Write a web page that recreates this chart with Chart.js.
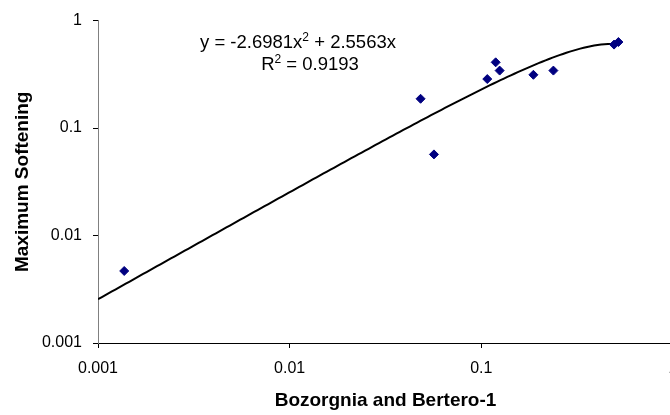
<!DOCTYPE html>
<html><head><meta charset="utf-8">
<script src="https://cdn.jsdelivr.net/npm/chart.js@4.4.0/dist/chart.umd.min.js"></script>
<style>html,body{margin:0;padding:0;overflow:hidden;background:#fff;width:670px;height:415px}</style>
</head><body>
<canvas id="c" width="700" height="415" style="display:block;width:700px;height:415px"></canvas>
<script>
// Data
const xValues = [0.00137, 0.0482, 0.0566, 0.1074, 0.1188, 0.1246, 0.1869, 0.2377, 0.4925, 0.519];
const yValues = [0.00468, 0.1873, 0.0569, 0.2858, 0.409, 0.3427, 0.313, 0.3427, 0.598, 0.632];
const xTickValues = [0.001, 0.01, 0.1, 1];
const yTickValues = [0.001, 0.01, 0.1, 1];
// Polynomial trendline shown on the chart: y = a x^2 + b x
const trendA = -2.6981;
const trendB = 2.5563;
const rSquared = 0.9193;
const trendStart = 0.001;
const trendEnd = 0.519;
const xTitle = 'Bozorgnia and Bertero-1';
const yTitle = 'Maximum Softening';

const FONT = "'Liberation Sans', Arial, sans-serif";
Chart.defaults.font.family = FONT;

const points = xValues.map((x, i) => ({x: x, y: yValues[i]}));
const trend = [];
const nTrend = 150;
for (let i = 0; i <= nTrend; i++) {
  const lx = Math.log10(trendStart) + (Math.log10(trendEnd) - Math.log10(trendStart)) * i / nTrend;
  const x = Math.pow(10, lx);
  trend.push({x: x, y: trendA * x * x + trendB * x});
}

const eqPlugin = {
  id: 'eq',
  afterDatasetsDraw(chart) {
    const ctx = chart.ctx;
    ctx.save();
    ctx.fillStyle = '#000';
    ctx.textBaseline = 'alphabetic';
    ctx.textAlign = 'left';
    const fs = 18.5, ss = 12;
    function drawLine(parts, cx, by) {
      let w = 0;
      parts.forEach(p => { ctx.font = p[1] + 'px ' + FONT; p.w = ctx.measureText(p[0]).width; w += p.w; });
      let x = cx - w / 2;
      parts.forEach(p => { ctx.font = p[1] + 'px ' + FONT; ctx.fillText(p[0], x, by + p[2]); x += p.w; });
    }
    drawLine([['y = ' + trendA + 'x', fs, 0], ['2', ss, -7.5], [' + ' + trendB + 'x', fs, 0]], 298, 48);
    drawLine([['R', fs, 0], ['2', ss, -7.5], [' = ' + rSquared, fs, 0]], 310, 70);
    ctx.restore();
  }
};

new Chart(document.getElementById('c'), {
  type: 'scatter',
  data: {
    datasets: [
      {
        label: 'data', data: points, order: 0,
        pointStyle: 'rectRot', pointRadius: 4.5, pointHoverRadius: 4.5,
        backgroundColor: '#000080', borderColor: '#000080', borderWidth: 1
      },
      {
        label: 'trend', data: trend, order: 1, type: 'line', showLine: true,
        borderColor: '#000', borderWidth: 2, pointRadius: 0, fill: false, tension: 0
      }
    ]
  },
  options: {
    responsive: false, animation: false,
    layout: {padding: {top: 15, right: 27, left: 0, bottom: 0}},
    plugins: {legend: {display: false}, tooltip: {enabled: false}},
    scales: {
      x: {
        type: 'logarithmic', position: 'bottom', min: 0.001, max: 1,
        afterBuildTicks: s => { s.ticks = xTickValues.map(v => ({value: v})); },
        afterFit: s => { s.height = 72; },
        ticks: {callback: v => String(v), color: '#000', font: {size: 16}, padding: 11, maxRotation: 0, autoSkip: false},
        grid: {drawOnChartArea: false, drawTicks: true, tickLength: 5, color: '#000', lineWidth: 1},
        border: {display: true, color: '#000', width: 1},
        title: {display: true, text: xTitle, color: '#000', font: {size: 19, weight: 'bold'}, padding: {top: 0, bottom: 3}}
      },
      y: {
        type: 'logarithmic', position: 'left', min: 0.001, max: 1,
        afterBuildTicks: s => { s.ticks = yTickValues.map(v => ({value: v})); },
        afterFit: s => { s.width = 98; },
        ticks: {callback: v => String(v), color: '#000', font: {size: 16}, padding: 11, autoSkip: false},
        grid: {drawOnChartArea: false, drawTicks: true, tickLength: 5, color: '#000', lineWidth: 1},
        border: {display: true, color: '#808080', width: 1},
        title: {display: true, text: yTitle, color: '#000', font: {size: 19, weight: 'bold'}, padding: {top: 11, bottom: 0}}
      }
    }
  },
  plugins: [eqPlugin]
});
</script>
</body></html>
